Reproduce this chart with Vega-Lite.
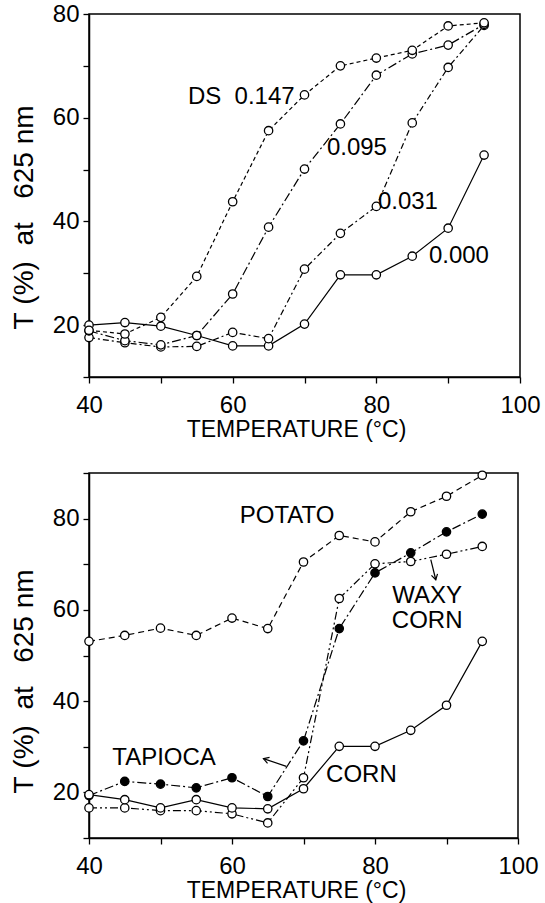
{
  "$schema": "https://vega.github.io/schema/vega-lite/v6.json",
  "background": "white",
  "padding": {"left": 9, "top": 1, "right": 5, "bottom": 5},
  "spacing": 18,
  "config": {
    "view": {"stroke": "black", "strokeWidth": 1.5},
    "font": "Liberation Sans",
    "axis": {
      "domainColor": "black", "domainWidth": 1.5, "tickColor": "black", "tickWidth": 1.3, "tickSize": 6,
      "grid": false, "labelFont": "Liberation Sans", "labelFontSize": 24, "labelColor": "black",
      "titleFont": "Liberation Sans", "titleFontSize": 23, "titleFontWeight": "normal", "titleColor": "black",
      "labelFlush": false, "labelOverlap": false
    },
    "text": {"font": "Liberation Sans", "fontSize": 24, "color": "black"}
  },
  "datasets": {
    "ds": [
      {"DS": "0.000", "temp": 40, "T": 20.0}, {"DS": "0.000", "temp": 45, "T": 20.5}, {"DS": "0.000", "temp": 50, "T": 19.8}, {"DS": "0.000", "temp": 55, "T": 18.0}, {"DS": "0.000", "temp": 60, "T": 16.0}, {"DS": "0.000", "temp": 65, "T": 16.0}, {"DS": "0.000", "temp": 70, "T": 20.2}, {"DS": "0.000", "temp": 75, "T": 29.7}, {"DS": "0.000", "temp": 80, "T": 29.7}, {"DS": "0.000", "temp": 85, "T": 33.3}, {"DS": "0.000", "temp": 90, "T": 38.7}, {"DS": "0.000", "temp": 95, "T": 52.8},
      {"DS": "0.031", "temp": 40, "T": 17.6}, {"DS": "0.031", "temp": 45, "T": 16.6}, {"DS": "0.031", "temp": 50, "T": 15.8}, {"DS": "0.031", "temp": 55, "T": 15.9}, {"DS": "0.031", "temp": 60, "T": 18.6}, {"DS": "0.031", "temp": 65, "T": 17.4}, {"DS": "0.031", "temp": 70, "T": 30.8}, {"DS": "0.031", "temp": 75, "T": 37.7}, {"DS": "0.031", "temp": 80, "T": 42.9}, {"DS": "0.031", "temp": 85, "T": 59.0}, {"DS": "0.031", "temp": 90, "T": 69.7}, {"DS": "0.031", "temp": 95, "T": 77.8},
      {"DS": "0.095", "temp": 40, "T": 18.9}, {"DS": "0.095", "temp": 45, "T": 17.0}, {"DS": "0.095", "temp": 50, "T": 16.2}, {"DS": "0.095", "temp": 55, "T": 18.0}, {"DS": "0.095", "temp": 60, "T": 26.0}, {"DS": "0.095", "temp": 65, "T": 38.9}, {"DS": "0.095", "temp": 70, "T": 50.1}, {"DS": "0.095", "temp": 75, "T": 58.8}, {"DS": "0.095", "temp": 80, "T": 68.2}, {"DS": "0.095", "temp": 85, "T": 72.3}, {"DS": "0.095", "temp": 90, "T": 74.0}, {"DS": "0.095", "temp": 95, "T": 78.0},
      {"DS": "0.147", "temp": 40, "T": 19.0}, {"DS": "0.147", "temp": 45, "T": 18.3}, {"DS": "0.147", "temp": 50, "T": 21.5}, {"DS": "0.147", "temp": 55, "T": 29.4}, {"DS": "0.147", "temp": 60, "T": 43.8}, {"DS": "0.147", "temp": 65, "T": 57.5}, {"DS": "0.147", "temp": 70, "T": 64.4}, {"DS": "0.147", "temp": 75, "T": 70.0}, {"DS": "0.147", "temp": 80, "T": 71.5}, {"DS": "0.147", "temp": 85, "T": 73.0}, {"DS": "0.147", "temp": 90, "T": 77.7}, {"DS": "0.147", "temp": 95, "T": 78.3}
    ],
    "dsLabels": [
      {"temp": 61.2, "T": 64.0, "text": "DS\u00a0\u00a00.147"},
      {"temp": 77.3, "T": 54.1, "text": "0.095"},
      {"temp": 84.4, "T": 43.7, "text": "0.031"},
      {"temp": 91.5, "T": 33.3, "text": "0.000"}
    ],
    "starch": [
      {"starch": "Tapioca", "temp": 40, "T": 19.3}, {"starch": "Tapioca", "temp": 45, "T": 22.4}, {"starch": "Tapioca", "temp": 50, "T": 21.8}, {"starch": "Tapioca", "temp": 55, "T": 21.0}, {"starch": "Tapioca", "temp": 60, "T": 23.2}, {"starch": "Tapioca", "temp": 65, "T": 19.1}, {"starch": "Tapioca", "temp": 70, "T": 31.3}, {"starch": "Tapioca", "temp": 75, "T": 55.9}, {"starch": "Tapioca", "temp": 80, "T": 68.1}, {"starch": "Tapioca", "temp": 85, "T": 72.5}, {"starch": "Tapioca", "temp": 90, "T": 77.1}, {"starch": "Tapioca", "temp": 95, "T": 81.0},
      {"starch": "Potato", "temp": 40, "T": 53.1}, {"starch": "Potato", "temp": 45, "T": 54.4}, {"starch": "Potato", "temp": 50, "T": 56.0}, {"starch": "Potato", "temp": 55, "T": 54.4}, {"starch": "Potato", "temp": 60, "T": 58.2}, {"starch": "Potato", "temp": 65, "T": 55.9}, {"starch": "Potato", "temp": 70, "T": 70.5}, {"starch": "Potato", "temp": 75, "T": 76.3}, {"starch": "Potato", "temp": 80, "T": 74.9}, {"starch": "Potato", "temp": 85, "T": 81.5}, {"starch": "Potato", "temp": 90, "T": 84.9}, {"starch": "Potato", "temp": 95, "T": 89.5},
      {"starch": "Waxy corn", "temp": 40, "T": 16.6}, {"starch": "Waxy corn", "temp": 45, "T": 16.6}, {"starch": "Waxy corn", "temp": 50, "T": 16.0}, {"starch": "Waxy corn", "temp": 55, "T": 16.0}, {"starch": "Waxy corn", "temp": 60, "T": 15.3}, {"starch": "Waxy corn", "temp": 65, "T": 13.3}, {"starch": "Waxy corn", "temp": 70, "T": 23.2}, {"starch": "Waxy corn", "temp": 75, "T": 62.5}, {"starch": "Waxy corn", "temp": 80, "T": 70.1}, {"starch": "Waxy corn", "temp": 85, "T": 70.6}, {"starch": "Waxy corn", "temp": 90, "T": 72.2}, {"starch": "Waxy corn", "temp": 95, "T": 73.9},
      {"starch": "Corn", "temp": 40, "T": 19.5}, {"starch": "Corn", "temp": 45, "T": 18.4}, {"starch": "Corn", "temp": 50, "T": 16.6}, {"starch": "Corn", "temp": 55, "T": 18.4}, {"starch": "Corn", "temp": 60, "T": 16.6}, {"starch": "Corn", "temp": 65, "T": 16.4}, {"starch": "Corn", "temp": 70, "T": 20.8}, {"starch": "Corn", "temp": 75, "T": 30.1}, {"starch": "Corn", "temp": 80, "T": 30.1}, {"starch": "Corn", "temp": 85, "T": 33.6}, {"starch": "Corn", "temp": 90, "T": 39.1}, {"starch": "Corn", "temp": 95, "T": 53.1}
    ],
    "starchLabels": [
      {"temp": 67.7, "T": 80.5, "text": "POTATO"},
      {"temp": 87.3, "T": 63.0, "text": "WAXY"},
      {"temp": 87.3, "T": 57.6, "text": "CORN"},
      {"temp": 50.5, "T": 27.5, "text": "TAPIOCA"},
      {"temp": 78.1, "T": 23.9, "text": "CORN"}
    ],
    "arrowLeft": [{"temp": 67.6, "T": 25.7, "temp2": 64.4, "T2": 27.4}],
    "arrowDown": [{"temp": 87.8, "T": 71.0, "temp2": 88.5, "T2": 66.6}]
  },
  "vconcat": [
    {
      "width": 431,
      "height": 363,
      "encoding": {
        "x": {"field": "temp", "type": "quantitative", "scale": {"domain": [40, 100], "nice": false},
          "axis": {"title": "TEMPERATURE (°C)", "values": [40, 50, 60, 70, 80, 90, 100], "labelExpr": "datum.value % 20 === 0 ? datum.label : ''", "labelPadding": 10, "titlePadding": 1, "titleX": 207}},
        "y": {"field": "T", "type": "quantitative", "scale": {"domain": [10, 80], "nice": false},
          "axis": {"title": "T\u00a0(%)\u00a0\u00a0at\u00a0\u00a0\u00a0625\u00a0nm", "titleFontSize": 28, "values": [10, 20, 30, 40, 50, 60, 70, 80], "labelExpr": "datum.value % 20 === 0 ? datum.label : ''", "labelPadding": 4, "titlePadding": 14, "titleY": 203}}
      },
      "layer": [
        {"data": {"name": "ds"}, "transform": [{"filter": "datum.DS === '0.000'"}], "mark": {"type": "line", "color": "black", "strokeWidth": 1.2}},
        {"data": {"name": "ds"}, "transform": [{"filter": "datum.DS === '0.031'"}], "mark": {"type": "line", "color": "black", "strokeWidth": 1.2, "strokeDash": [6, 3, 2, 3]}},
        {"data": {"name": "ds"}, "transform": [{"filter": "datum.DS === '0.095'"}], "mark": {"type": "line", "color": "black", "strokeWidth": 1.2, "strokeDash": [9, 3, 2, 3]}},
        {"data": {"name": "ds"}, "transform": [{"filter": "datum.DS === '0.147'"}], "mark": {"type": "line", "color": "black", "strokeWidth": 1.2, "strokeDash": [4, 3]}},
        {"data": {"name": "ds"}, "mark": {"type": "point", "shape": "circle", "size": 70, "filled": true, "fill": "white", "stroke": "black", "strokeWidth": 1.3, "opacity": 1}},
        {"data": {"name": "dsLabels"}, "mark": {"type": "text", "align": "center", "baseline": "middle"}, "encoding": {"text": {"field": "text"}}}
      ]
    },
    {
      "width": 429,
      "height": 365,
      "encoding": {
        "x": {"field": "temp", "type": "quantitative", "scale": {"domain": [40, 100], "nice": false},
          "axis": {"title": "TEMPERATURE (°C)", "values": [40, 50, 60, 70, 80, 90, 100], "labelExpr": "datum.value % 20 === 0 ? datum.label : ''", "labelPadding": 10, "titlePadding": 1, "titleX": 207}},
        "y": {"field": "T", "type": "quantitative", "scale": {"domain": [10, 90], "nice": false},
          "axis": {"title": "T\u00a0(%)\u00a0\u00a0at\u00a0\u00a0\u00a0625\u00a0nm", "titleFontSize": 28, "values": [10, 20, 30, 40, 50, 60, 70, 80, 90], "labelExpr": "datum.value % 20 === 0 ? datum.label : ''", "labelPadding": 4, "titlePadding": 14, "titleY": 208}}
      },
      "layer": [
        {"data": {"name": "starch"}, "transform": [{"filter": "datum.starch === 'Corn'"}], "mark": {"type": "line", "color": "black", "strokeWidth": 1.2}},
        {"data": {"name": "starch"}, "transform": [{"filter": "datum.starch === 'Potato'"}], "mark": {"type": "line", "color": "black", "strokeWidth": 1.2, "strokeDash": [6, 4]}},
        {"data": {"name": "starch"}, "transform": [{"filter": "datum.starch === 'Tapioca'"}], "mark": {"type": "line", "color": "black", "strokeWidth": 1.2, "strokeDash": [9, 3, 2, 3]}},
        {"data": {"name": "starch"}, "transform": [{"filter": "datum.starch === 'Waxy corn'"}], "mark": {"type": "line", "color": "black", "strokeWidth": 1.2, "strokeDash": [8, 3, 2, 3, 2, 3]}},
        {"data": {"name": "starch"}, "mark": {"type": "point", "shape": "circle", "size": 70, "filled": true, "stroke": "black", "strokeWidth": 1.3, "opacity": 1},
          "encoding": {"fill": {"field": "starch", "type": "nominal", "scale": {"domain": ["Corn", "Potato", "Tapioca", "Waxy corn"], "range": ["white", "white", "black", "white"]}, "legend": null}}},
        {"data": {"name": "starchLabels"}, "mark": {"type": "text", "align": "center", "baseline": "middle"}, "encoding": {"text": {"field": "text"}}},
        {"data": {"name": "arrowLeft"}, "mark": {"type": "rule", "color": "black", "strokeWidth": 1.2}, "encoding": {"x2": {"field": "temp2"}, "y2": {"field": "T2"}}},
        {"data": {"name": "arrowLeft"}, "mark": {"type": "point", "shape": "M 1.2 -0.7 L 0 0 L 1.2 0.7", "angle": 19, "size": 80, "filled": false, "color": "black", "strokeWidth": 1.2, "opacity": 1},
          "encoding": {"x": {"field": "temp2", "type": "quantitative"}, "y": {"field": "T2", "type": "quantitative"}}},
        {"data": {"name": "arrowDown"}, "mark": {"type": "rule", "color": "black", "strokeWidth": 1.2}, "encoding": {"x2": {"field": "temp2"}, "y2": {"field": "T2"}}},
        {"data": {"name": "arrowDown"}, "mark": {"type": "point", "shape": "M -0.7 -1.2 L 0 0 L 0.7 -1.2", "angle": -14, "size": 80, "filled": false, "color": "black", "strokeWidth": 1.2, "opacity": 1},
          "encoding": {"x": {"field": "temp2", "type": "quantitative"}, "y": {"field": "T2", "type": "quantitative"}}}
      ]
    }
  ]
}
